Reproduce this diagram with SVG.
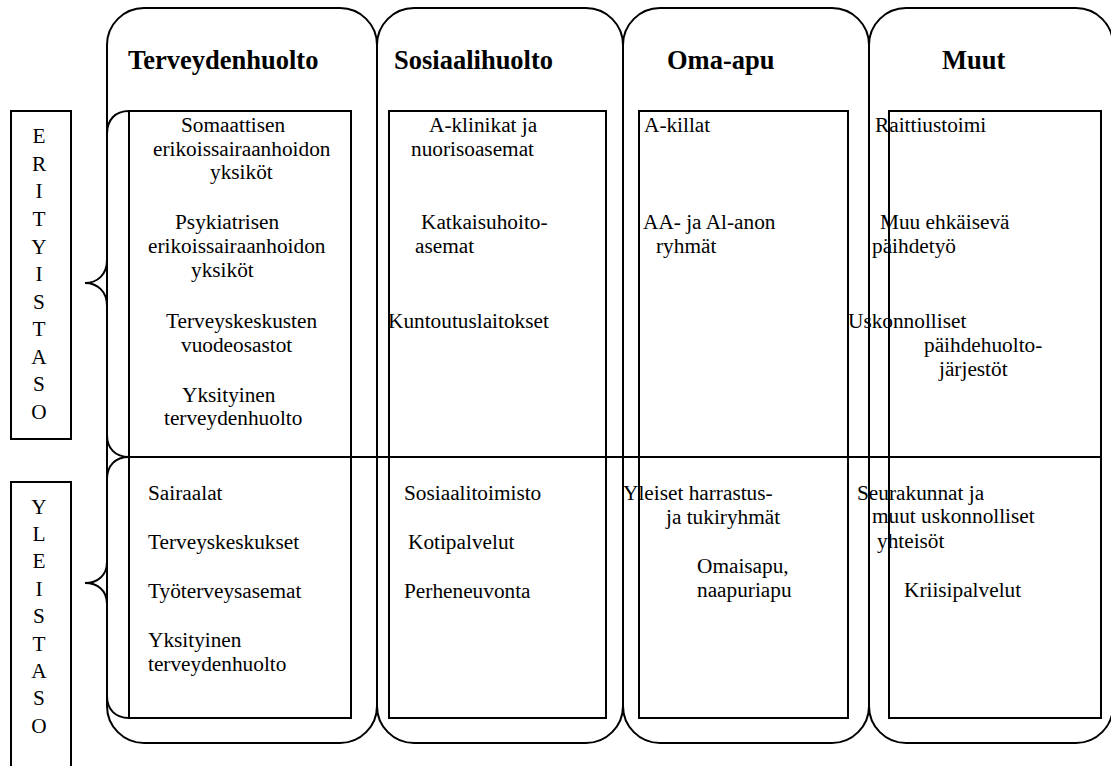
<svg xmlns="http://www.w3.org/2000/svg" width="1111" height="766" viewBox="0 0 1111 766">
<style>
.ln{fill:none;stroke:#000;stroke-width:2}
.t{font-family:"Liberation Serif","Times New Roman",serif;font-size:21.3px;fill:#000}
.h{font-family:"Liberation Serif","Times New Roman",serif;font-size:26.5px;font-weight:bold;fill:#000}
.lt{font-family:"Liberation Serif","Times New Roman",serif;font-size:21.3px;fill:#000;text-anchor:middle}
</style>
<rect width="1111" height="766" fill="#fff"/>
<g id="col-terveydenhuolto">
<rect class="ln" x="107" y="8" width="270" height="735" rx="37" ry="37"/>
<rect class="ln" x="129" y="111" width="222" height="607"/>
<text class="h" x="128" y="69">Terveydenhuolto</text>
<text class="t" x="181" y="132">Somaattisen</text>
<text class="t" x="153" y="156">erikoissairaanhoidon</text>
<text class="t" x="210" y="179">yksiköt</text>
<text class="t" x="175" y="229">Psykiatrisen</text>
<text class="t" x="148" y="253">erikoissairaanhoidon</text>
<text class="t" x="191" y="277">yksiköt</text>
<text class="t" x="166" y="328">Terveyskeskusten</text>
<text class="t" x="181" y="352">vuodeosastot</text>
<text class="t" x="182" y="402">Yksityinen</text>
<text class="t" x="164" y="425">terveydenhuolto</text>
<text class="t" x="148" y="500">Sairaalat</text>
<text class="t" x="148" y="549">Terveyskeskukset</text>
<text class="t" x="148" y="598">Työterveysasemat</text>
<text class="t" x="148" y="647">Yksityinen</text>
<text class="t" x="148" y="671">terveydenhuolto</text>
</g>
<g id="col-sosiaalihuolto">
<rect class="ln" x="377" y="8" width="246" height="735" rx="37" ry="37"/>
<rect class="ln" x="389" y="111" width="217" height="607"/>
<text class="h" x="394" y="69">Sosiaalihuolto</text>
<text class="t" x="429" y="132">A-klinikat ja</text>
<text class="t" x="411" y="156">nuorisoasemat</text>
<text class="t" x="421" y="229">Katkaisuhoito-</text>
<text class="t" x="415" y="253">asemat</text>
<text class="t" x="388" y="328">Kuntoutuslaitokset</text>
<text class="t" x="404" y="500">Sosiaalitoimisto</text>
<text class="t" x="408" y="549">Kotipalvelut</text>
<text class="t" x="404" y="598">Perheneuvonta</text>
</g>
<g id="col-oma-apu">
<rect class="ln" x="623" y="8" width="246" height="735" rx="37" ry="37"/>
<rect class="ln" x="639" y="111" width="209" height="607"/>
<text class="h" x="667" y="69">Oma-apu</text>
<text class="t" x="644" y="132">A-killat</text>
<text class="t" x="643" y="229">AA- ja Al-anon</text>
<text class="t" x="656" y="253">ryhmät</text>
<text class="t" x="623" y="500">Yleiset harrastus-</text>
<text class="t" x="666" y="524">ja tukiryhmät</text>
<text class="t" x="697" y="573">Omaisapu,</text>
<text class="t" x="697" y="597">naapuriapu</text>
</g>
<g id="col-muut">
<rect class="ln" x="869" y="8" width="244" height="735" rx="37" ry="37"/>
<rect class="ln" x="889" y="111" width="212" height="607"/>
<text class="h" x="942" y="69">Muut</text>
<text class="t" x="875" y="132">Raittiustoimi</text>
<text class="t" x="880" y="229">Muu ehkäisevä</text>
<text class="t" x="872" y="253">päihdetyö</text>
<text class="t" x="848" y="328">Uskonnolliset</text>
<text class="t" x="924" y="352">päihdehuolto-</text>
<text class="t" x="939" y="376">järjestöt</text>
<text class="t" x="857" y="500">Seurakunnat ja</text>
<text class="t" x="872" y="523">muut uskonnolliset</text>
<text class="t" x="877" y="548">yhteisöt</text>
<text class="t" x="904" y="597">Kriisipalvelut</text>
</g>
<g id="level-erityistaso">
<rect class="ln" x="11" y="111" width="60" height="328"/>
<text class="lt" x="39" y="143">E</text>
<text class="lt" x="39" y="171">R</text>
<text class="lt" x="39" y="198">I</text>
<text class="lt" x="39" y="226">T</text>
<text class="lt" x="39" y="254">Y</text>
<text class="lt" x="39" y="281">I</text>
<text class="lt" x="39" y="309">S</text>
<text class="lt" x="39" y="336">T</text>
<text class="lt" x="39" y="364">A</text>
<text class="lt" x="39" y="391">S</text>
<text class="lt" x="39" y="419">O</text>
</g>
<g id="level-yleistaso">
<rect class="ln" x="11" y="482" width="60" height="300"/>
<text class="lt" x="39" y="514">Y</text>
<text class="lt" x="39" y="541">L</text>
<text class="lt" x="39" y="568">E</text>
<text class="lt" x="39" y="596">I</text>
<text class="lt" x="39" y="623">S</text>
<text class="lt" x="39" y="651">T</text>
<text class="lt" x="39" y="678">A</text>
<text class="lt" x="39" y="705">S</text>
<text class="lt" x="39" y="733">O</text>
</g>
<g id="connectors">
<line class="ln" x1="129" y1="457" x2="1101" y2="457"/>
<path class="ln" d="M129,111 C115,111 107,120 107,134 L107,260 C107,275 97,283 85,283 C97,283 107,291 107,306 L107,435 C107,448 115,457 129,457"/>
<path class="ln" d="M129,457 C115,457 107,466 107,479 L107,562 C107,576 97,583 85,583 C97,583 107,590 107,604 L107,696 C107,709 115,718 129,718"/>
</g>
</svg>
